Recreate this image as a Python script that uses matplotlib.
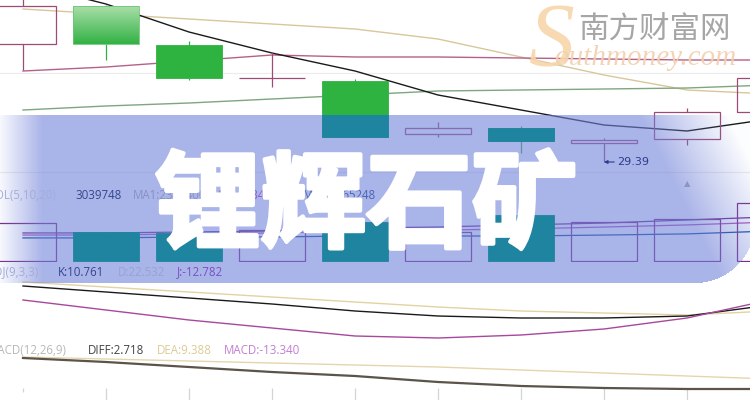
import numpy as np
import matplotlib
matplotlib.use("Agg")
import matplotlib.pyplot as plt
from matplotlib.patches import Rectangle
import matplotlib.patheffects as pe

# ---------------- data ----------------
idx = list(range(10))
opens = [35.29, 37.19, 35.24, 33.59, 33.44, 30.79, 31.09, 30.34, 30.54, 31.89]
closes = [37.19, 35.29, 33.59, 33.59, 30.64, 31.09, 30.44, 30.49, 31.89, 33.59]
highs = [37.59, 37.24, 35.44, 34.89, 33.54, 31.39, 31.19, 30.59, 32.09, 33.69]
lows = [33.99, 34.49, 33.49, 33.14, 30.64, 30.64, 29.84, 29.39, 30.24, 31.79]

ma_black = [38.34, 37.29, 35.89, 34.84, 33.94, 32.74, 31.99, 31.24, 30.94, 31.54]
ma_yellow = [37.04, 36.79, 36.54, 36.29, 36.04, 35.54, 34.64, 33.74, 32.99, 32.79]
ma_purple = [33.94, 34.14, 34.44, 34.74, 34.64, 34.64, 34.59, 34.54, 34.49, 34.49]
ma_green = [31.99, 32.19, 32.34, 32.54, 32.74, 32.94, 32.99, 33.04, 33.09, 33.24]
price_grid = [33.84, 28.89]

volumes = [1990000, 1520000, 1470000, 1620000, 2040000, 1520000, 2410000, 2040000, 2200000, 3039748]
vol_ma5 = [1470000, 1470000, 1520000, 1570000, 1730000, 1780000, 1890000, 1990000, 2150000, 2310000]
vol_ma10 = [1360000, 1360000, 1420000, 1470000, 1570000, 1620000, 1680000, 1780000, 1890000, 2040000]
vol_ma20 = [1210000, 1210000, 1260000, 1260000, 1310000, 1310000, 1310000, 1360000, 1420000, 1570000]

kdj_k = [59, 53, 47, 41, 34, 29, 27, 27, 29, 40]
kdj_d = [63, 58, 53, 48, 43, 38, 34, 32, 30, 34]
kdj_j = [45, 35, 25, 17, 9, 7, 10, 16, 27, 45]

macd_diff = [42, 38, 33, 28, 24, 18, 14, 12, 11, 11]
macd_dea = [43, 41, 39, 37, 35, 33, 30, 27, 24, 21]
macd_zero = 12
macd_hist = [-4, -12, -12, -12, -12, -12, -12, -12, -12, -12]

low_label = "29.39"
title = "锂辉石矿"
vol_labels = ["VOL(5,10,20)", "3039748", "MA1:2341406", "MA2:2234117", "MA3:2165248"]
kdj_labels = ["KDJ(9,3,3)", "K:10.761", "D:22.532", "J:-12.782"]
macd_labels = ["MACD(12,26,9)", "DIFF:2.718", "DEA:9.388", "MACD:-13.340"]
site_cn = "南方财富网"
site_en = "outhmoney.com"

# ---------------- layout / style ----------------
W, H = 750, 400
fig = plt.figure(figsize=(7.5, 4), dpi=100)
fig.patch.set_facecolor("white")


def fx(px):
    return px / W


def fy(py):
    return 1 - py / H


STEP = 83.0
X0 = -23 / STEP
X1 = (W - 23) / STEP
CW = 66 / STEP

UP_EDGE = "#9c4a78"
DOWN = "#2eb240"
TEAL = "#1f84a0"
BANNER_TOP, BANNER_BOT = 115, 283

PRICE_LIM = (37.49 - 0.05 * 185, 37.49)
VOL_LIM = (-52410, 76 * 52410)


def panel(top, bot, ylim, z):
    ax = fig.add_axes([0, fy(bot), 1, (bot - top) / H], zorder=z)
    ax.set_xlim(X0, X1)
    ax.set_ylim(*ylim)
    ax.axis("off")
    ax.patch.set_alpha(0)
    return ax


ax_p = panel(0, 185, PRICE_LIM, 1)
ax_v = panel(185, 262, VOL_LIM, 1)
ax_k = panel(262, 345, (0, 83), 1)
ax_m = panel(345, 400, (0, 55), 1)

# ---- price panel ----
for g in price_grid:
    ax_p.axhline(g, color="#ececec", lw=0.8, zorder=0)
ax_p.plot(idx, ma_yellow, color="#d9c79a", lw=1, zorder=1)
ax_p.plot(idx, ma_purple, color="#b5608a", lw=1, zorder=1)
ax_p.plot(idx, ma_green, color="#7fa67f", lw=1, zorder=1)
ax_p.plot(idx, ma_black, color="#1a1a1a", lw=1, zorder=1)

for i in idx:
    o, c, h, l = opens[i], closes[i], highs[i], lows[i]
    up = c >= o
    col = UP_EDGE if up else DOWN
    top, bot = max(o, c), min(o, c)
    ax_p.vlines(i, top, h, color=col, lw=0.9, zorder=2)
    ax_p.vlines(i, l, bot, color=col, lw=0.9, zorder=2)
    if up:
        ax_p.bar(i, top - bot, bottom=bot, width=CW, facecolor="none",
                 edgecolor=col, lw=0.9, zorder=3)
    else:
        if i == 1:
            grad = np.linspace(0, 1, 50)[:, None]
            c1 = np.array([0.66, 0.87, 0.66])
            c2 = np.array([0.20, 0.70, 0.27])
            img = c1 + (c2 - c1) * grad[..., None]
            img = np.repeat(img, 2, axis=1)
            ax_p.imshow(img, extent=(i - CW / 2, i + CW / 2, bot, top),
                        aspect="auto", zorder=3)
            ax_p.bar(i, top - bot, bottom=bot, width=CW, facecolor="none",
                     edgecolor="#6cc47a", lw=0.6, zorder=3)
        else:
            ax_p.bar(i, top - bot, bottom=bot, width=CW, color=DOWN,
                     edgecolor=DOWN, lw=0.6, zorder=3)
ax_p.set_xlim(X0, X1)
ax_p.set_ylim(*PRICE_LIM)

# ---- volume panel ----
for i in idx:
    if closes[i] >= opens[i]:
        ax_v.bar(i, volumes[i], width=CW, facecolor="none",
                 edgecolor="#7a2a86", lw=0.9, zorder=3)
ax_v.plot(idx, vol_ma20, color="#0a4a9a", lw=0.9, zorder=2)
ax_v.plot(idx, vol_ma10, color="#b050b0", lw=0.9, zorder=2)
ax_v.plot(idx, vol_ma5, color="#6a2a9a", lw=0.9, zorder=2)

# ---- KDJ panel ----
ax_k.plot(idx, kdj_d, color="#e2d2a4", lw=1)
ax_k.plot(idx, kdj_k, color="#1a1a1a", lw=1)
ax_k.plot(idx, kdj_j, color="#a8489c", lw=1)

# ---- MACD panel ----
ax_m.vlines(idx, macd_zero, [macd_zero + h for h in macd_hist],
            color="#d4d4d4", lw=0.9)
ax_m.plot(idx, macd_dea, color="#e4d6ac", lw=1)
ax_m.plot(idx, macd_diff, color="#5c534a", lw=1.6)

# ---------------- translucent banner ----------------
yy, xx = np.mgrid[0:H, 0:W] + 0.5
inside = (yy >= BANNER_TOP) & (yy <= BANNER_BOT)
cx, cy, r = 695, 223, 60
corner = (xx > cx) & (yy > cy) & ((xx - cx) ** 2 + (yy - cy) ** 2 > r ** 2)
inside &= ~corner
left = np.clip(0.08 + 0.92 * xx / 42, 0, 1)
t = (xx - 640 - 0.5 * (yy - BANNER_TOP)) / 90
right = np.clip(1 - t, 0.03, 1)
alpha = 0.6 * inside * left * right
ov = np.zeros((H, W, 4))
ov[..., 0] = 113 / 255
ov[..., 1] = 130 / 255
ov[..., 2] = 217 / 255
ov[..., 3] = alpha
ax_ov = fig.add_axes([0, 0, 1, 1], zorder=2)
ax_ov.imshow(ov, extent=(0, W, H, 0), aspect="auto", interpolation="bilinear")
ax_ov.set_xlim(0, W)
ax_ov.set_ylim(H, 0)
ax_ov.axis("off")
ax_ov.patch.set_alpha(0)

# ---------------- layer above banner ----------------
clip_rect = Rectangle((0, fy(BANNER_BOT)), 1, (BANNER_BOT - BANNER_TOP) / H,
                      transform=fig.transFigure)
ax_pt = panel(0, 185, PRICE_LIM, 3)
ax_vt = panel(185, 262, VOL_LIM, 3)
for i in idx:
    o, c = opens[i], closes[i]
    if c < o:
        b1 = ax_pt.bar(i, o - c, bottom=c, width=CW, color=TEAL, edgecolor=TEAL, lw=0.6)
        b2 = ax_vt.bar(i, volumes[i], width=CW, color=TEAL, edgecolor=TEAL, lw=0.6)
        for p in list(b1) + list(b2):
            p.set_clip_path(clip_rect)

k = 7
ax_pt.annotate(low_label, xy=(idx[k], lows[k]), xytext=(13, 0),
               textcoords="offset pixels", va="center", ha="left",
               fontsize=8, color="#2a3c8c", family="DejaVu Sans",
               arrowprops=dict(arrowstyle="-|>", color="#2a3c8c", lw=0.8,
                               mutation_scale=5, shrinkA=0, shrinkB=0))

fig.text(fx(687), fy(184), "▲", fontsize=6, color="#8c94c8", ha="center",
         va="center", zorder=5)

LF = "Open Sans"
FS = 8.3
vol_pos = [(-12, "#a4acd8"), (75, "#34468e"), (133, "#8890c4"), (212, "#9060c8"), (303, "#4a64b4")]
for s, (px, col) in zip(vol_labels, vol_pos):
    fig.text(fx(px), fy(195), s, fontsize=FS, color=col, family=LF, ha="left",
             va="center", zorder=5)
kdj_pos = [(-12, "#a4acd8"), (58, "#34468e"), (118, "#98a2d4"), (177, "#7a50c4")]
for s, (px, col) in zip(kdj_labels, kdj_pos):
    fig.text(fx(px), fy(272), s, fontsize=FS, color=col, family=LF, ha="left",
             va="center", zorder=5)
macd_pos = [(-12, "#b8b8b8"), (88, "#444444"), (157, "#dccb94"), (224, "#c27ed2")]
for s, (px, col) in zip(macd_labels, macd_pos):
    fig.text(fx(px), fy(350), s, fontsize=FS, color=col, family=LF, ha="left",
             va="center", zorder=5)

# ---------------- watermark ----------------
fig.text(fx(552), fy(44), "S", fontsize=66, family="Liberation Serif",
         style="italic", color="#f7d6aa", ha="center", va="center", zorder=6,
         alpha=0.9)
fig.text(fx(645), fy(58), site_en, fontsize=21, family="Liberation Serif",
         style="italic", color="#f2d0b0", ha="center", va="center", zorder=6,
         alpha=0.9)
fig.text(fx(654), fy(30), site_cn, fontsize=22, family=["Noto Sans CJK SC"],
         color="#a6a6a6", ha="center", va="center", zorder=6)

# ---------------- big title ----------------
fig.text(fx(366), fy(208), title, fontsize=76, color="white",
         family=["Noto Sans CJK SC"], fontweight="black", ha="center",
         va="center", zorder=10,
         path_effects=[pe.withStroke(linewidth=3, foreground="white")])

fig.savefig("out.png", dpi=100, facecolor="white")
